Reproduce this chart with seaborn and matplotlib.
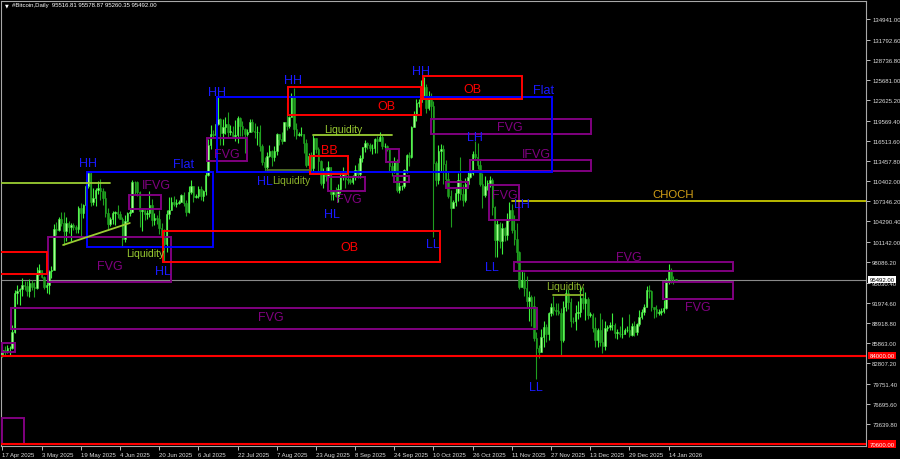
import numpy as np
import pandas as pd
import matplotlib
matplotlib.use("Agg")
import matplotlib.pyplot as plt
import matplotlib.dates as mdates
import matplotlib.transforms as mtransforms
from matplotlib.patches import Rectangle
import seaborn as sns

# daily candles, thousands of USD, 17 Apr 2025 .. 17 Jan 2026 (one row per month)
first_open_k = 84.0
close_k = [
    84.9, 84.5, 85.1, 85.2, 87.5, 93.4, 93.7, 94.0, 94.7, 94.6, 93.8, 95.0, 94.3, 94.2,
    96.5, 96.9, 95.9, 94.3, 94.7, 96.8, 97.0, 103.2, 103.0, 104.6, 104.1, 102.8, 104.1, 103.5, 103.7, 103.5, 103.2, 106.4, 105.6, 106.8, 109.7, 111.6, 107.3, 107.8, 109.0, 109.4, 108.9, 107.8, 105.6, 103.9, 104.6,
    105.6, 105.8, 105.4, 104.7, 101.6, 104.4, 105.6, 105.8, 110.3, 110.2, 108.7, 105.9, 106.1, 105.4, 105.5, 106.8, 104.5, 104.8, 104.6, 103.3, 102.1, 100.9, 105.4, 106.0, 107.3, 107.0, 107.1, 107.3, 108.3, 107.1,
    105.7, 108.8, 109.6, 108.0, 108.2, 109.2, 108.2, 108.9, 111.3, 115.9, 117.5, 117.4, 119.1, 119.8, 117.7, 118.6, 119.1, 117.9, 117.9, 117.3, 117.4, 119.9, 118.7, 118.3, 117.6, 117.9, 119.4, 118.0, 117.8, 117.8, 115.7,
    113.3, 112.5, 114.2, 115.0, 114.1, 115.0, 117.5, 116.7, 116.5, 119.3, 118.7, 120.1, 123.3, 118.3, 117.4, 117.5, 117.5, 116.2, 112.9, 114.2, 112.4, 116.9, 115.3, 113.4, 110.1, 111.8, 111.2, 112.5, 108.4, 108.8, 108.2,
    109.2, 111.2, 111.7, 110.7, 110.6, 110.2, 111.1, 112.1, 111.5, 113.9, 115.5, 116.1, 115.9, 115.4, 115.4, 116.8, 116.5, 117.1, 115.7, 115.7, 115.2, 112.7, 112.0, 113.3, 109.0, 109.6, 109.6, 112.1, 114.4, 114.0,
    118.6, 120.5, 122.2, 122.4, 123.5, 124.7, 121.4, 123.3, 121.7, 113.2, 110.6, 114.9, 115.3, 113.0, 110.7, 108.2, 106.4, 107.2, 108.6, 110.6, 108.4, 107.5, 110.0, 111.0, 111.6, 114.5, 114.1, 112.9, 110.0, 108.3, 109.6,
    110.1, 110.5, 106.5, 101.5, 103.9, 101.3, 103.3, 102.3, 104.7, 106.0, 103.0, 101.6, 99.7, 94.4, 95.5, 94.2, 92.2, 92.9, 91.5, 86.6, 85.1, 84.6, 86.8, 88.3, 87.3, 90.5, 91.3, 90.9, 90.8, 90.4,
    86.3, 91.3, 93.4, 92.1, 89.3, 89.2, 90.4, 90.6, 92.7, 92.0, 92.5, 90.2, 90.2, 88.1, 86.4, 87.8, 86.1, 85.5, 88.1, 88.3, 88.6, 88.6, 87.4, 87.6, 87.2, 87.3, 87.8, 87.8, 87.1, 88.4, 87.5,
    88.7, 89.9, 90.6, 91.4, 93.9, 93.7, 91.3, 91.0, 90.5, 90.6, 90.8, 91.2, 95.3, 97.0, 95.6, 95.517, 95.492,
]
high_k = [
    85.5, 85.4, 85.6, 85.4, 88.6, 93.9, 94.7, 94.2, 95.8, 95.3, 95.3, 95.6, 95.5, 95.1,
    97.4, 97.8, 97.0, 96.0, 95.2, 97.0, 97.6, 103.9, 104.2, 104.9, 105.7, 105.7, 104.9, 104.3, 104.1, 104.0, 103.7, 106.6, 107.1, 107.0, 110.7, 111.9, 111.8, 109.4, 109.3, 110.4, 110.7, 109.3, 108.9, 106.3, 105.0,
    105.9, 105.9, 106.8, 105.9, 105.0, 105.3, 105.8, 106.4, 110.6, 110.4, 110.4, 108.9, 106.2, 106.1, 106.0, 108.9, 107.7, 105.5, 105.2, 106.0, 104.0, 103.1, 106.1, 108.0, 108.0, 108.2, 107.7, 107.6, 108.5, 108.7,
    107.5, 109.7, 110.5, 109.7, 108.4, 109.7, 109.7, 109.1, 111.9, 116.8, 118.9, 118.2, 119.5, 123.2, 120.0, 119.8, 120.1, 120.8, 118.9, 118.8, 119.7, 120.2, 120.1, 119.5, 118.5, 118.3, 119.8, 119.8, 119.2, 118.8, 118.9,
    116.0, 114.0, 114.8, 115.8, 115.1, 115.7, 117.7, 117.6, 117.9, 119.3, 122.3, 120.3, 123.7, 124.5, 119.2, 117.9, 118.6, 117.6, 116.8, 114.6, 114.8, 117.4, 117.0, 115.6, 113.6, 112.4, 112.6, 113.4, 112.6, 108.9, 109.5,
    109.9, 111.8, 112.6, 112.0, 113.4, 110.8, 111.3, 112.9, 113.2, 114.3, 115.6, 116.6, 116.3, 116.1, 116.0, 117.0, 117.3, 117.9, 117.5, 116.2, 115.9, 115.4, 113.3, 114.0, 113.7, 110.3, 109.8, 112.3, 114.5, 114.8,
    118.7, 121.0, 122.9, 122.9, 125.7, 126.2, 125.1, 124.0, 123.7, 122.5, 113.4, 115.8, 116.0, 115.9, 113.6, 111.9, 109.0, 107.5, 109.4, 111.7, 114.0, 109.9, 110.8, 112.0, 111.9, 115.0, 116.4, 116.1, 113.6, 111.6, 111.2,
    110.6, 111.2, 110.8, 106.6, 104.5, 104.2, 104.0, 103.4, 105.5, 107.3, 107.0, 105.3, 104.0, 99.8, 96.8, 96.6, 96.0, 93.8, 93.1, 93.0, 87.5, 85.6, 88.0, 89.2, 88.7, 90.6, 91.9, 93.0, 91.9, 92.0,
    91.2, 92.3, 94.1, 94.0, 92.7, 89.9, 91.7, 92.2, 94.6, 94.4, 93.6, 92.8, 90.6, 90.5, 89.9, 88.2, 90.4, 89.5, 89.3, 88.6, 89.1, 90.5, 88.9, 88.0, 88.4, 89.9, 88.2, 88.4, 90.3, 89.0, 89.2,
    88.9, 90.9, 91.0, 91.8, 94.6, 94.7, 93.9, 91.4, 91.6, 91.0, 91.2, 92.4, 95.8, 97.8, 97.2, 96.0, 95.579,
]
low_k = [
    83.8, 84.1, 84.4, 83.9, 85.0, 87.4, 91.8, 91.7, 93.0, 93.9, 93.0, 92.9, 93.9, 92.9,
    94.1, 96.2, 95.7, 94.0, 93.5, 93.3, 95.8, 97.0, 102.2, 102.9, 103.6, 100.8, 101.4, 102.6, 101.4, 103.0, 102.6, 102.6, 102.0, 104.8, 106.1, 109.3, 106.7, 106.8, 106.7, 108.5, 107.6, 106.8, 105.0, 103.2, 103.6,
    103.9, 103.7, 104.8, 104.6, 100.4, 101.2, 104.2, 105.1, 105.7, 108.4, 108.1, 103.4, 102.8, 104.5, 104.6, 104.9, 103.6, 103.8, 103.9, 102.4, 100.9, 98.2, 99.6, 104.7, 106.0, 106.6, 106.5, 106.9, 107.3, 106.7,
    105.1, 105.6, 108.5, 107.3, 107.8, 107.9, 107.5, 107.4, 108.3, 111.2, 115.2, 116.9, 117.2, 118.9, 115.8, 115.8, 117.5, 117.1, 117.4, 116.9, 116.4, 116.1, 117.3, 117.2, 114.7, 117.2, 117.8, 117.9, 116.9, 115.8, 115.0,
    112.8, 112.0, 112.0, 114.1, 112.7, 113.4, 114.3, 115.9, 116.0, 116.5, 118.2, 118.5, 120.1, 117.2, 116.8, 117.3, 117.2, 114.7, 112.6, 112.4, 112.0, 111.7, 114.6, 112.0, 109.8, 109.3, 110.4, 111.0, 107.6, 107.5, 108.0,
    107.3, 108.6, 110.5, 109.4, 110.0, 109.9, 110.0, 110.6, 110.8, 110.9, 113.3, 114.8, 115.2, 114.9, 114.5, 114.7, 114.7, 116.5, 115.2, 115.4, 114.9, 112.0, 111.1, 111.6, 108.7, 108.6, 109.1, 109.4, 111.6, 112.7,
    113.9, 118.6, 119.5, 121.6, 121.8, 123.0, 120.7, 121.1, 119.6, 102.0, 109.6, 109.9, 111.9, 110.0, 110.0, 107.8, 103.5, 106.3, 106.7, 107.4, 107.5, 106.7, 107.2, 109.7, 110.8, 111.3, 113.8, 112.2, 109.6, 106.3, 108.0,
    109.1, 109.5, 105.3, 98.9, 98.9, 100.3, 99.3, 101.3, 101.5, 104.4, 102.5, 100.8, 98.0, 94.0, 94.5, 93.0, 91.3, 89.2, 88.5, 86.2, 80.5, 83.6, 84.6, 85.3, 86.1, 86.3, 90.0, 90.2, 90.2, 90.2,
    84.0, 86.1, 90.8, 91.0, 88.3, 88.9, 87.8, 89.5, 89.8, 91.0, 89.4, 89.6, 89.8, 87.6, 85.3, 85.3, 85.4, 84.4, 84.9, 87.7, 87.9, 87.9, 86.7, 86.5, 86.8, 86.7, 87.2, 87.5, 86.8, 86.9, 87.0,
    87.1, 88.4, 89.6, 90.1, 91.3, 92.7, 90.8, 89.7, 89.9, 90.2, 90.2, 90.4, 91.1, 94.9, 95.0, 94.9, 95.260,
]

# right axis price scale
price_ticks = [134941.00, 131792.60, 128736.80, 125681.00, 122625.20, 119569.40, 116513.60,
               113457.80, 110402.00, 107346.20, 104290.40, 101142.00, 98086.20, 95030.40,
               91974.60, 88918.80, 85863.00, 82807.20, 79751.40, 76695.60, 73639.80]
last_price = 95492.00
support_levels = [84000.00, 70600.00]

# zones: (start, end, low k$, high k$)
ob_boxes = [
    ("2025-04-15", "2025-05-05", 96.34, 99.67),
    ("2025-06-21 12:00", "2025-10-12 12:00", 98.16, 102.85),
    ("2025-08-11 12:00", "2025-10-05", 120.41, 124.65),
    ("2025-10-05 18:00", "2025-11-15", 122.83, 126.31),
    ("2025-08-20 12:00", "2025-09-05 06:00", 111.48, 114.20),
]
range_boxes = [
    ("2025-05-21 12:00", "2025-07-12", 100.43, 111.78),
    ("2025-07-13 12:00", "2025-11-27 12:00", 111.78, 123.13),
]
fvg_boxes = [
    ("2025-05-05 12:00", "2025-06-25", 95.13, 101.94),
    ("2025-04-20 12:00", "2025-11-21 06:00", 88.02, 91.20),
    ("2025-04-16 18:00", "2025-04-22", 84.54, 85.90),
    ("2025-04-16 18:00", "2025-04-25 18:00", 70.61, 74.55),
    ("2025-06-07 12:00", "2025-06-20 18:00", 106.18, 108.30),
    ("2025-07-09 12:00", "2025-07-26", 113.45, 116.93),
    ("2025-08-28", "2025-09-12", 108.91, 111.03),
    ("2025-09-20 12:00", "2025-09-26", 113.30, 115.26),
    ("2025-09-24", "2025-09-30", 110.27, 111.18),
    ("2025-10-09", "2025-12-13 06:00", 117.53, 119.81),
    ("2025-10-25", "2025-12-13 06:00", 111.93, 113.60),
    ("2025-10-15", "2025-10-24", 109.36, 110.27),
    ("2025-11-01 18:00", "2025-11-14", 104.52, 109.82),
    ("2025-11-12", "2026-02-09 06:00", 96.80, 98.16),
    ("2026-01-11 18:00", "2026-02-09 06:00", 92.56, 95.13),
]
# liquidity lines: (start, end, price start, price end, colour)
liq_lines = [
    ("2025-04-15", "2025-05-30 22:00", 110.12, 110.12, "#9acd32"),
    ("2025-05-11 18:00", "2025-06-08", 100.73, 104.06, "#9acd32"),
    ("2025-08-03", "2025-08-20 12:00", 112.09, 112.09, "#55702a"),
    ("2025-08-21 18:00", "2025-09-23", 117.38, 117.38, "#9acd32"),
    ("2025-11-28", "2025-12-10", 93.16, 93.16, "#8cb42a"),
]
choch = ("2025-11-11", 107.346)

# labels: (text, date, price k$, colour, size)
labels = [
    ("HH", "2025-05-22", 113.1, "#1a1aff", 9), ("Flat", "2025-06-29 18:00", 113.0, "#1a1aff", 9),
    ("HL", "2025-06-21 12:00", 96.8, "#1a1aff", 9), ("HH", "2025-07-13 12:00", 123.9, "#1a1aff", 9),
    ("HH", "2025-08-13 12:00", 125.7, "#1a1aff", 9), ("HL", "2025-08-02", 110.4, "#1a1aff", 9),
    ("HL", "2025-08-29 12:00", 105.4, "#1a1aff", 9), ("HH", "2025-10-05", 127.07, "#1a1aff", 9),
    ("Flat", "2025-11-24", 124.2, "#1a1aff", 9), ("LH", "2025-10-27", 117.08, "#1a1aff", 9),
    ("LL", "2025-10-09 18:00", 100.88, "#1a1aff", 9), ("LH", "2025-11-15", 106.94, "#1a1aff", 9),
    ("LL", "2025-11-03", 97.4, "#1a1aff", 9), ("LL", "2025-11-20 18:00", 79.24, "#1a1aff", 9),
    ("OB", "2025-09-05 12:00", 100.43, "#ff0000", 9), ("OB", "2025-09-20 18:00", 121.77, "#ff0000", 9),
    ("OB", "2025-10-25 18:00", 124.35, "#ff0000", 9), ("BB", "2025-08-28 12:00", 115.1, "#ff0000", 9),
    ("FVG", "2025-05-30 18:00", 97.55, "#800080", 9), ("IFVG", "2025-06-19", 109.82, "#800080", 9),
    ("FVG", "2025-07-17 18:00", 114.5, "#800080", 9), ("FVG", "2025-09-05 12:00", 107.7, "#800080", 9),
    ("FVG", "2025-08-04 18:00", 89.84, "#800080", 9), ("FVG", "2025-11-10", 118.6, "#800080", 9),
    ("IFVG", "2025-11-21", 114.5, "#800080", 9), ("FVG", "2025-11-08", 108.3, "#800080", 9),
    ("FVG", "2025-12-28 18:00", 98.92, "#800080", 9), ("FVG", "2026-01-25 18:00", 91.35, "#800080", 9),
    ("Liquidity", "2025-06-14 12:00", 99.5, "#9acd32", 7.5), ("Liquidity", "2025-09-03", 118.3, "#9acd32", 7.5),
    ("Liquidity", "2025-08-13", 110.57, "#8cb42a", 7.5), ("Liquidity", "2025-12-03", 94.5, "#8cb42a", 7.5),
    ("CHOCH", "2026-01-16", 108.45, "#d4a017", 8.2),
]

sns.set_theme(style="dark", rc={"axes.facecolor": "black", "figure.facecolor": "black",
                                "axes.grid": False, "axes.edgecolor": "#a8a8a8"})
plt.rcParams["font.family"] = ["Liberation Sans", "DejaVu Sans"]

dates = pd.date_range("2025-04-17", periods=len(close_k), freq="D")
x = mdates.date2num(dates)
c = np.array(close_k) * 1000
o = np.array([first_open_k] + close_k[:-1]) * 1000
h = np.maximum(np.array(high_k) * 1000, np.maximum(o, c))
l = np.minimum(np.array(low_k) * 1000, np.minimum(o, c))

fig = plt.figure(figsize=(9, 4.6), dpi=100)
ax = fig.add_axes([0.0011, 0.0283, 0.9611, 0.9674])

up = c >= o
body_lo = np.minimum(o, c)
body_h = np.maximum(np.abs(c - o), 80)
ax.vlines(x[up], l[up], h[up], color="#3cf03c", linewidth=0.8, zorder=3)
ax.vlines(x[~up], l[~up], h[~up], color="#1f9f1f", linewidth=0.8, zorder=3)
ax.bar(x[up], body_h[up], bottom=body_lo[up], width=0.62, color="#a6ff90",
       edgecolor="#3cf03c", linewidth=0.4, zorder=4)
ax.bar(x[~up], body_h[~up], bottom=body_lo[~up], width=0.62, color="#1f9f1f",
       edgecolor="#1f9f1f", linewidth=0.4, zorder=4)


def t(d):
    return mdates.date2num(pd.Timestamp(d))


def box(zone, color):
    x0, x1 = t(zone[0]), t(zone[1])
    ax.add_patch(Rectangle((x0, zone[2] * 1000), x1 - x0, (zone[3] - zone[2]) * 1000,
                           fill=False, edgecolor=color, linewidth=1.4, zorder=5))


for z in fvg_boxes:
    box(z, "#800080")
for z in range_boxes:
    box(z, "#0000ff")
for z in ob_boxes:
    box(z, "#ff0000")

for s, e, p0, p1, col in liq_lines:
    ax.plot([t(s), t(e)], [p0 * 1000, p1 * 1000], color=col, linewidth=1.3, zorder=5)

ax.plot([t(choch[0]), t("2026-06-01")], [choch[1] * 1000] * 2, color="#c8c800", linewidth=1.3, zorder=5)
ax.axhline(last_price, color="#8a8a8a", linewidth=0.8, zorder=2)
for lvl in support_levels:
    ax.axhline(lvl, color="#ff0000", linewidth=1.5, zorder=5)

for s, d, p, col, fs in labels:
    ax.text(t(d), p * 1000, s, color=col, fontsize=fs, ha="center", va="center", zorder=6)

d0 = mdates.date2num(dates[0])
ax.set_xlim(d0 - 0.6, d0 + 352.6)
ax.set_ylim(70311, 137665)

tick_dates = pd.date_range("2025-04-17", "2026-01-14", freq="16D")
ax.set_xticks(mdates.date2num(tick_dates))
ax.set_xticklabels([f"{d.day} {d:%b %Y}" for d in tick_dates], ha="left")
ax.tick_params(axis="x", length=3, width=0.6, pad=1, labelsize=4.3, colors="#dcdcdc", bottom=True)

ax.yaxis.tick_right()
ax.set_yticks(price_ticks)
ax.set_yticklabels([f"{v:.2f}" for v in price_ticks])
ax.tick_params(axis="y", length=3, width=0.6, pad=1.5, labelsize=4.3, colors="#dcdcdc", right=True)

tr = mtransforms.blended_transform_factory(ax.transAxes, ax.transData)
ax.text(1.004, last_price, f"{last_price:.2f}", transform=tr, fontsize=4.3, color="black",
        ha="left", va="center", zorder=10,
        bbox=dict(boxstyle="square,pad=0.2", fc="white", ec="none"))
for lvl in support_levels:
    ax.text(1.004, lvl, f"{lvl:.2f}", transform=tr, fontsize=4.3, color="white",
            ha="left", va="center", zorder=10,
            bbox=dict(boxstyle="square,pad=0.2", fc="#ff0000", ec="none"))

for sp in ax.spines.values():
    sp.set_color("#a8a8a8")
    sp.set_linewidth(0.8)

fig.text(5 / 900, 1 - 6 / 460, "\u25bc", fontsize=3.5, color="white", va="center",
         family="DejaVu Sans")
fig.text(12 / 900, 1 - 6 / 460, "#Bitcoin,Daily  95516.81 95578.87 95260.35 95492.00",
         fontsize=4.3, color="white", va="center")

fig.savefig("out.png", dpi=100, facecolor="black")
